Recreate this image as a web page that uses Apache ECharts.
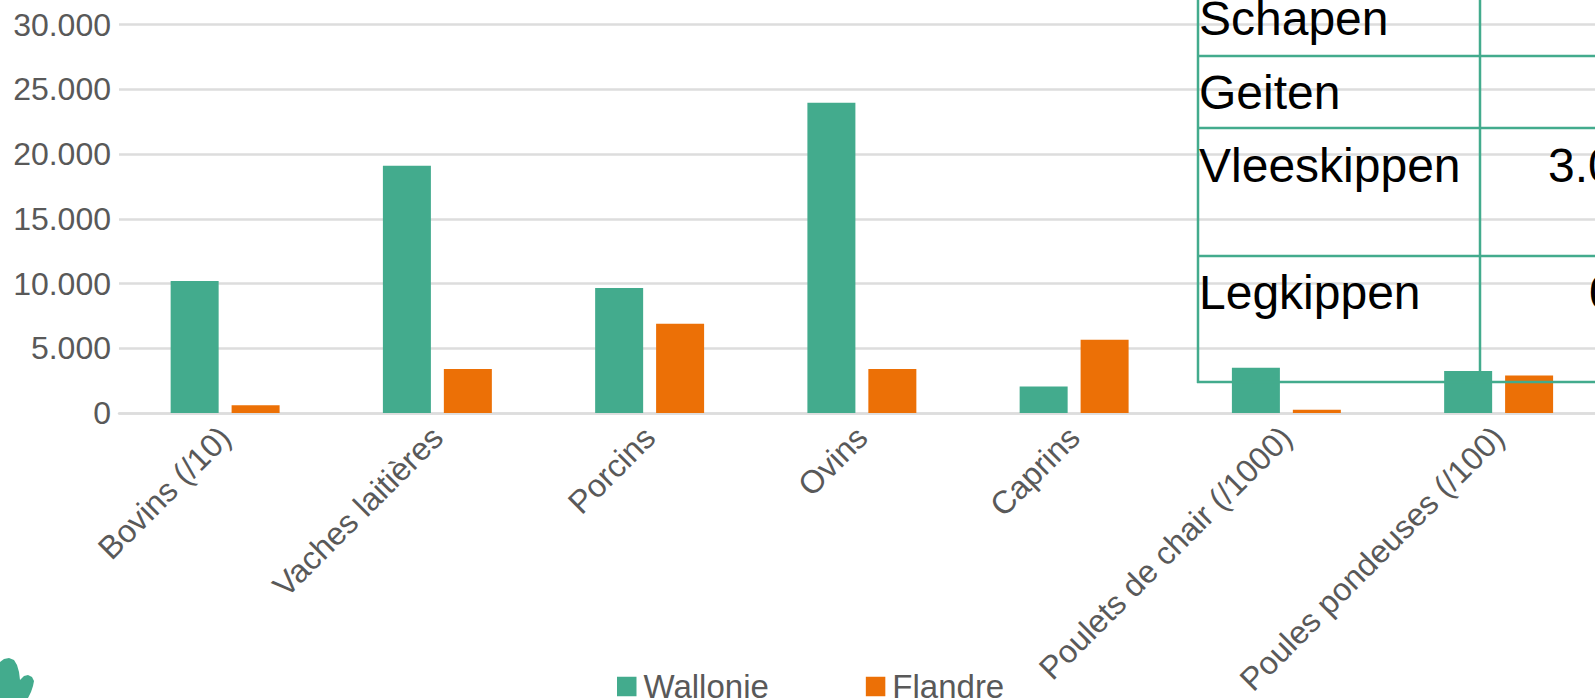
<!DOCTYPE html>
<html><head><meta charset="utf-8">
<style>html,body{margin:0;padding:0;background:#fff;overflow:hidden}#c{width:1595px;height:698px}</style>
<script src="https://cdn.jsdelivr.net/npm/echarts@6/dist/echarts.min.js"></script></head>
<body><div id="c"></div>
<script>
const categories=["Bovins (/10)","Vaches laitières","Porcins","Ovins","Caprins","Poulets de chair (/1000)","Poules pondeuses (/100)",""];
const wallonie=[10200,19100,9650,23950,2050,3500,3250,null];
const flandre=[600,3400,6900,3400,5650,250,2900,null];
const tableLabels=["Schapen","Geiten","Vleeskippen","Legkippen"];
const tableValues=["","","3.0","0"];
const chart=echarts.init(document.getElementById('c'),null,{renderer:'svg'});
const green='#43ab8d',orange='#ec7006',grey='#595959',F='"Liberation Sans"';
const rowLines=[56,128,256,382],textTops=[-6,68,141,268],valueX=[0,0,1548,1589];
const gfx=[];
const ln=(x1,y1,x2,y2)=>({type:'line',z:20,shape:{x1,y1,x2,y2},style:{stroke:green,lineWidth:2.5}});
gfx.push(ln(1198,0,1198,383),ln(1480,0,1480,382));
rowLines.forEach(y=>gfx.push(ln(1197,y,1595,y)));
tableLabels.forEach((t,i)=>{
 gfx.push({type:'text',z:21,style:{text:t,x:1199,y:textTops[i],font:'48px '+F,fill:'#000'}});
 if(tableValues[i])gfx.push({type:'text',z:21,style:{text:tableValues[i],x:valueX[i],y:textTops[i],font:'48px '+F,fill:'#000'}});
});
gfx.push({type:'polygon',z:5,shape:{points:[[0,662],[4,659],[9,658],[14,660],[17,665],[19,672],[20,680],[24,676],[28,675],[32,677],[34,681],[33,686],[31,692],[28,698],[0,698]]},style:{fill:green}});
chart.setOption({animation:false,
 grid:{left:119,width:1698,top:24.5,height:388.5,outerBoundsMode:'none'},
 legend:{show:true,left:612,top:665,itemGap:97,itemWidth:19.5,itemHeight:19.5,icon:'rect',
  textStyle:{fontFamily:F,fontSize:33,color:grey,padding:[0,0,0,2]},data:['Wallonie','Flandre']},
 xAxis:{type:'category',data:categories,axisTick:{show:false},
  axisLine:{lineStyle:{color:'#dddddd',width:2.5}},
  axisLabel:{interval:0,rotate:45,fontFamily:F,fontSize:32.2,color:grey,margin:19}},
 yAxis:{type:'value',min:0,max:30000,interval:5000,
  axisLine:{show:false},axisTick:{show:false},
  splitLine:{lineStyle:{color:'#dddddd',width:2.5}},
  axisLabel:{fontFamily:F,fontSize:32,color:grey,margin:8,formatter:v=>v===0?'0':(v/1000)+'.000'}},
 series:[{name:'Wallonie',type:'bar',data:wallonie,itemStyle:{color:green},barWidth:48,barGap:'27%'},
  {name:'Flandre',type:'bar',data:flandre,itemStyle:{color:orange},barWidth:48,barGap:'27%'}],
 graphic:gfx});
</script></body></html>
